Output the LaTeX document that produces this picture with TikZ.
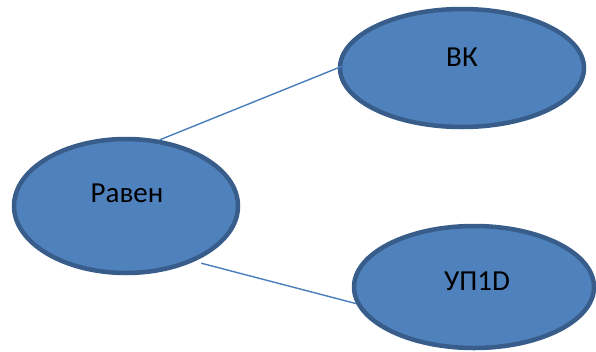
\documentclass[tikz,border=0pt]{standalone}
\usepackage{fontspec}
\setmainfont{Carlito}
\usetikzlibrary{shapes.geometric}
\definecolor{ellfill}{HTML}{4F81BD}
\definecolor{elldraw}{HTML}{385D8A}
\definecolor{linkcol}{HTML}{4A7EBB}
\begin{document}
\begin{tikzpicture}[x=1pt,y=-1pt,
  oval/.style={ellipse, draw=elldraw, fill=ellfill, line width=4.5pt, inner sep=0pt},
  txt/.style={font=\fontsize{29}{33}\selectfont, text=black},
  link/.style={draw=linkcol, line width=1.4pt}]
\useasboundingbox (0,0) rectangle (596,351);
\node[oval, minimum width=224pt, minimum height=134pt] (ra) at (126,206) {};
\node[oval, minimum width=244pt, minimum height=118pt] (vk) at (462,68) {};
\node[oval, minimum width=240pt, minimum height=122pt] (up) at (474,287) {};
\node[txt] (ratxt) at (127,193) {Равен};
\node[txt] (vktxt) at (462,57) {ВК};
\node[txt] (uptxt) at (477,281) {УП1D};
\draw[link, shorten >=-14pt] (ra.63) -- (vk.180);
\draw[link, shorten <=7pt] (ra.-39) -- (up.188);
\end{tikzpicture}
\end{document}
